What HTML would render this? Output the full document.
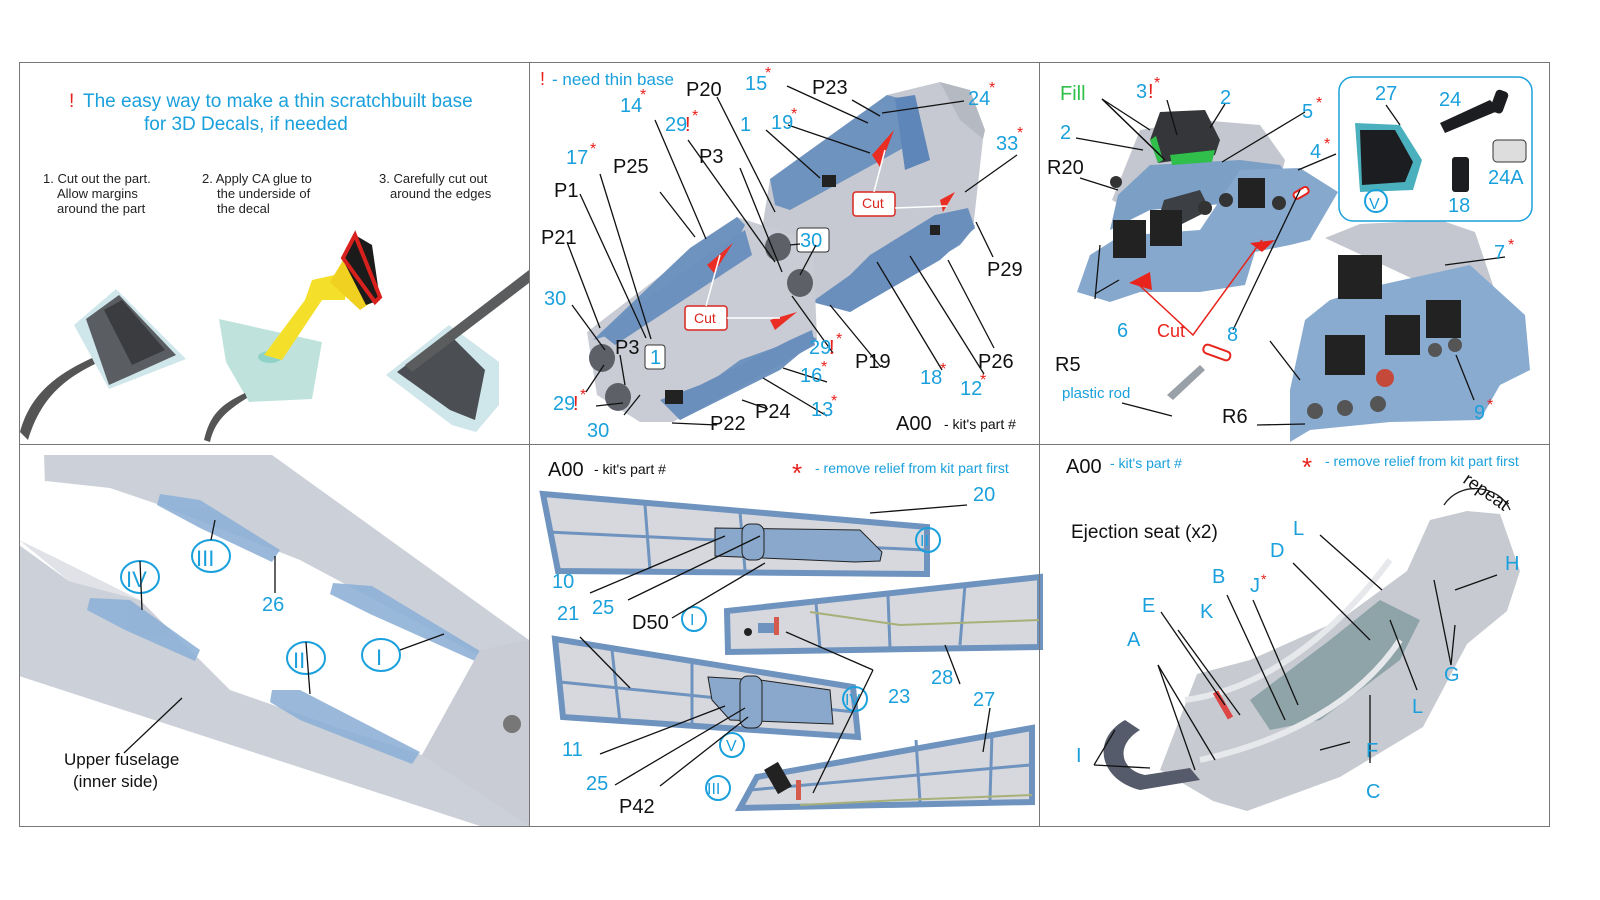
<!DOCTYPE html>
<html><head><meta charset="utf-8"><style>
html,body{margin:0;padding:0;background:#fff;}
svg{display:block;}
text{font-family:"Liberation Sans",Arial,sans-serif;}
.b{fill:#1aa0dc;font-size:20px;}
.k{fill:#111;font-size:20px;}
.r{fill:#e8201c;}
.ln{stroke:#111;stroke-width:1.3;fill:none;}
.gr{fill:#c9ccd4;}
.bl{fill:#6f93bf;}
.scr{fill:#222;}
</style></head><body>
<svg width="1600" height="900" viewBox="0 0 1600 900" xmlns="http://www.w3.org/2000/svg">
<rect width="1600" height="900" fill="#fff"/>

<!-- ===== TOP LEFT ===== -->
<text x="69" y="107" font-size="19" class="r">!</text>
<text x="83" y="107" font-size="19" fill="#1aa0dc">The easy way to make a thin scratchbuilt base</text>
<text x="144" y="130" font-size="19" fill="#1aa0dc">for 3D Decals, if needed</text>
<g font-size="13" fill="#222">
<text x="43" y="183">1. Cut out the part.</text><text x="57" y="198">Allow margins</text><text x="57" y="213">around the part</text>
<text x="202" y="183">2. Apply CA glue to</text><text x="217" y="198">the underside of</text><text x="217" y="213">the decal</text>
<text x="379" y="183">3. Carefully cut out</text><text x="390" y="198">around the edges</text>
</g>
<polygon points="74,325 116,289 186,359 109,389" fill="#cfe6ea"/>
<polygon points="86,319 119,295 176,355 109,385" fill="#5a5d62"/>
<polygon points="104,310 122,300 165,350 132,365" fill="#3a3c40"/>
<path d="M20,432 C30,395 55,375 92,358 L95,364 C62,380 40,400 28,440 Z" fill="#555"/>
<polygon points="219,319 322,342 312,399 249,402 226,362" fill="#bfe3dc"/>
<ellipse cx="270" cy="357" rx="12" ry="6" fill="#8fd3c8"/>
<polygon points="264,355 282,360 322,300 345,300 348,272 312,280 305,300" fill="#f4e02a"/>
<polygon points="330,282 348,252 375,300 360,310" fill="#f0d020"/>
<polygon points="343,260 355,235 372,245 380,300 366,305" fill="#1b1b1b"/>
<path d="M343,258 L355,235 L380,297 L375,302 Z" fill="none" stroke="#d8201c" stroke-width="4"/>
<path d="M204,440 C210,415 220,405 245,393 L247,398 C228,410 215,420 210,442 Z" fill="#555"/>
<polygon points="386,375 449,325 499,362 499,405 476,432 452,425" fill="#cfe6ea"/>
<polygon points="397,372 448,333 485,370 475,420 450,410" fill="#4b4e53"/>
<polygon points="405,365 529,270 529,283 412,372" fill="#5a5c5e"/>

<!-- ===== TOP MIDDLE ===== -->
<text x="540" y="85" font-size="18" class="r">!</text><text x="552" y="85" font-size="17" fill="#1aa0dc">- need thin base</text>
<!-- right tub -->
<polygon points="760,242 770,179 887,95 940,82 983,139 973,229 850,312 817,302" fill="#c6c9d1"/>
<polygon points="770,179 887,95 905,100 918,140 790,210 775,205" class="bl"/>
<polygon points="895,98 915,95 930,160 905,170" fill="#5f86b8"/>
<polygon points="840,300 930,240 975,225 973,229 960,245 850,312" class="bl"/>
<polygon points="812,302 850,275 870,255 935,215 968,208 975,228 940,260 850,312" fill="#6b8fbd"/>
<polygon points="940,82 970,90 985,130 983,139 960,120" fill="#b5b9c2"/>
<rect x="822" y="175" width="14" height="12" class="scr"/>
<rect x="930" y="225" width="10" height="10" class="scr"/>
<!-- left tub -->
<polygon points="587,332 737,217 813,242 817,339 673,422 640,422 597,395" fill="#c9ccd4"/>
<polygon points="593,340 690,248 737,217 745,225 735,245 610,335" class="bl"/>
<polygon points="600,333 700,260 745,230 752,255 615,345" fill="#6d91be"/>
<polygon points="672,410 740,360 810,335 817,339 780,370 680,420" class="bl"/>
<polygon points="660,400 700,385 790,340 812,330 815,345 680,420" fill="#6b8fbd"/>
<rect x="665" y="390" width="18" height="14" class="scr"/>
<!-- seats -->
<g fill="#5e6068"><ellipse cx="602" cy="358" rx="13" ry="14"/><ellipse cx="618" cy="397" rx="13" ry="14"/><ellipse cx="778" cy="247" rx="13" ry="14"/><ellipse cx="800" cy="283" rx="13" ry="14"/></g>
<g fill="#ea2e24"><polygon points="707,265 733,243 714,273"/><polygon points="770,320 797,312 775,330"/><polygon points="872,155 894,130 880,167"/><polygon points="940,200 955,192 943,212"/></g>
<g fill="#fff" stroke="#d9261f" stroke-width="1.5"><rect x="685" y="306" width="42" height="24" rx="3"/><rect x="853" y="192" width="42" height="24" rx="3"/></g>
<g font-size="14" fill="#d9261f"><text x="694" y="323">Cut</text><text x="862" y="208">Cut</text></g>
<g stroke="#fff" stroke-width="1.5"><line x1="706" y1="306" x2="720" y2="255"/><line x1="727" y1="318" x2="780" y2="318"/><line x1="874" y1="192" x2="885" y2="150"/><line x1="895" y1="208" x2="947" y2="206"/></g>
<g fill="#fff" stroke="#333" stroke-width="1"><rect x="645" y="345" width="20" height="24" rx="3"/><rect x="797" y="228" width="32" height="24" rx="3"/></g>
<text x="650" y="364" class="b">1</text><text x="800" y="247" class="b">30</text>
<g class="ln">
<line x1="600" y1="174" x2="651" y2="339"/><line x1="660" y1="192" x2="695" y2="237"/><line x1="655" y1="120" x2="706" y2="239"/><line x1="580" y1="194" x2="646" y2="338"/>
<line x1="567" y1="242" x2="600" y2="328"/><line x1="572" y1="305" x2="605" y2="350"/><line x1="586" y1="392" x2="604" y2="365"/><line x1="596" y1="406" x2="623" y2="403"/><line x1="624" y1="415" x2="640" y2="395"/><line x1="620" y1="355" x2="625" y2="385"/>
<line x1="688" y1="140" x2="775" y2="262"/><line x1="717" y1="97" x2="775" y2="212"/><line x1="740" y1="168" x2="782" y2="272"/><line x1="766" y1="130" x2="820" y2="178"/>
<line x1="788" y1="125" x2="870" y2="153"/><line x1="787" y1="86" x2="868" y2="123"/><line x1="852" y1="100" x2="880" y2="116"/><line x1="882" y1="113" x2="964" y2="101"/><line x1="1017" y1="155" x2="965" y2="192"/>
<line x1="993" y1="257" x2="976" y2="222"/><line x1="994" y1="348" x2="948" y2="260"/><line x1="984" y1="374" x2="910" y2="256"/><line x1="942" y1="370" x2="877" y2="262"/><line x1="881" y1="367" x2="830" y2="305"/>
<line x1="833" y1="353" x2="792" y2="296"/><line x1="827" y1="382" x2="783" y2="368"/><line x1="827" y1="416" x2="763" y2="378"/><line x1="768" y1="409" x2="742" y2="400"/><line x1="717" y1="425" x2="672" y2="423"/>
<line x1="800" y1="244" x2="790" y2="245"/><line x1="816" y1="245" x2="800" y2="275"/>
</g>
<g class="k"><text x="686" y="96">P20</text><text x="812" y="94">P23</text><text x="613" y="173">P25</text><text x="699" y="163">P3</text><text x="554" y="197">P1</text><text x="541" y="244">P21</text><text x="615" y="354">P3</text><text x="710" y="430">P22</text><text x="755" y="418">P24</text><text x="855" y="368">P19</text><text x="978" y="368">P26</text><text x="987" y="276">P29</text></g>
<g class="b"><text x="745" y="90">15</text><text x="620" y="112">14</text><text x="665" y="131">29</text><text x="740" y="131">1</text><text x="771" y="129">19</text><text x="566" y="164">17</text><text x="968" y="105">24</text><text x="996" y="150">33</text><text x="544" y="305">30</text><text x="553" y="410">29</text><text x="587" y="437">30</text><text x="809" y="354">29</text><text x="800" y="382">16</text><text x="920" y="384">18</text><text x="960" y="395">12</text><text x="811" y="416">13</text></g>
<g class="r" font-size="16"><text x="765" y="78">*</text><text x="640" y="100">*</text><text x="685" y="131" font-size="20">!</text><text x="692" y="121">*</text><text x="791" y="119">*</text><text x="590" y="154">*</text><text x="989" y="93">*</text><text x="1017" y="138">*</text><text x="573" y="410" font-size="20">!</text><text x="580" y="400">*</text><text x="829" y="354" font-size="20">!</text><text x="836" y="344">*</text><text x="821" y="372">*</text><text x="940" y="374">*</text><text x="980" y="385">*</text><text x="831" y="406">*</text></g>
<text x="896" y="430" class="k">A00</text><text x="944" y="429" font-size="14" fill="#111">- kit's part #</text>

<!-- ===== TOP RIGHT ===== -->
<polygon points="1112,200 1140,130 1200,120 1260,125 1285,160 1280,180 1130,210" fill="#c4c7cf"/>
<polygon points="1110,230 1118,195 1150,165 1240,160 1280,165 1290,178 1270,200 1150,210" fill="#7c9fc6"/>
<polygon points="1077,292 1090,255 1120,236 1200,230 1240,170 1300,168 1338,192 1310,240 1290,245 1255,252 1245,285 1200,292 1140,292 1110,302" fill="#87a8cd"/>
<polygon points="1155,230 1164,200 1200,190 1210,210 1180,225" fill="#3c3f44"/>
<g class="scr"><rect x="1113" y="220" width="33" height="38"/><rect x="1150" y="210" width="32" height="36"/><rect x="1238" y="178" width="27" height="30"/></g>
<polygon points="1150,140 1160,112 1205,110 1220,140 1215,155 1158,163" fill="#34363a"/>
<polygon points="1150,140 1158,163 1163,160 1156,136" fill="#2fbf4a"/><polygon points="1170,155 1215,150 1212,162 1172,165" fill="#2fbf4a"/>
<g fill="#333"><circle cx="1116" cy="182" r="6"/><circle cx="1205" cy="208" r="7"/><circle cx="1226" cy="200" r="7"/><circle cx="1279" cy="203" r="7"/></g>
<polygon points="1129,283 1150,272 1152,290" fill="#e8241c"/><polygon points="1250,243 1275,240 1262,252" fill="#e8241c"/>
<polyline points="1138,284 1193,335 1262,240" stroke="#e8241c" stroke-width="1.5" fill="none"/>
<polygon points="1325,238 1360,224 1440,220 1475,232 1498,300 1480,310" fill="#c4c7cf"/>
<polygon points="1290,390 1305,320 1330,300 1380,285 1470,265 1525,315 1530,370 1500,385 1480,420 1390,422 1310,430 1290,442" fill="#8aabd0"/>
<g class="scr"><rect x="1338" y="255" width="44" height="44"/><rect x="1325" y="335" width="40" height="40"/><rect x="1385" y="315" width="35" height="40"/><rect x="1426" y="300" width="35" height="38"/></g>
<g fill="#555"><circle cx="1315" cy="411" r="8"/><circle cx="1345" cy="408" r="8"/><circle cx="1378" cy="404" r="8"/><circle cx="1435" cy="350" r="7"/><circle cx="1455" cy="345" r="7"/><circle cx="1385" cy="378" r="9" fill="#c4493a"/></g>
<g fill="#fff" stroke="#e8241c" stroke-width="2"><rect x="1203" y="348" width="28" height="9" rx="4" transform="rotate(20 1217 352)"/><rect x="1293" y="190" width="16" height="7" rx="3" transform="rotate(-30 1300 193)"/></g>
<polygon points="1167,395 1200,365 1205,370 1173,400" fill="#9aa0a8"/>
<rect x="1339" y="77" width="193" height="144" rx="14" fill="#fff" stroke="#1aa0dc" stroke-width="1.5"/>
<polygon points="1355,123 1400,125 1422,160 1413,190 1360,192" fill="#4bb0bd"/>
<polygon points="1360,130 1395,130 1413,162 1405,182 1362,185" fill="#1c1d20"/>
<polygon points="1440,123 1490,100 1500,110 1445,133" fill="#1c1d20"/><rect x="1493" y="90" width="13" height="23" rx="4" fill="#1c1d20" transform="rotate(20 1499 101)"/>
<rect x="1452" y="157" width="17" height="35" rx="3" fill="#1c1d20"/><rect x="1493" y="140" width="33" height="22" rx="4" fill="#ddd" stroke="#333"/>
<circle cx="1376" cy="201" r="11" fill="none" stroke="#1aa0dc" stroke-width="2"/><text x="1369" y="209" font-size="16" fill="#1aa0dc">V</text>
<g class="ln">
<line x1="1102" y1="99" x2="1150" y2="130"/><line x1="1102" y1="99" x2="1160" y2="155"/><line x1="1102" y1="99" x2="1165" y2="160"/><line x1="1076" y1="138" x2="1143" y2="150"/><line x1="1225" y1="104" x2="1210" y2="128"/><line x1="1167" y1="100" x2="1177" y2="135"/>
<line x1="1305" y1="112" x2="1222" y2="162"/><line x1="1336" y1="154" x2="1298" y2="170"/><line x1="1080" y1="178" x2="1118" y2="190"/><line x1="1095" y1="294" x2="1119" y2="280"/>
<line x1="1095" y1="299" x2="1100" y2="245"/><line x1="1233" y1="330" x2="1300" y2="190"/><line x1="1505" y1="257" x2="1445" y2="265"/><line x1="1474" y1="400" x2="1456" y2="355"/>
<line x1="1257" y1="425" x2="1305" y2="424"/><line x1="1270" y1="341" x2="1300" y2="380"/><line x1="1122" y1="403" x2="1172" y2="416"/><line x1="1386" y1="105" x2="1400" y2="125"/>
</g>
<text x="1060" y="100" font-size="20" fill="#2fbf4a">Fill</text>
<g class="b"><text x="1136" y="98">3</text><text x="1220" y="104">2</text><text x="1060" y="139">2</text><text x="1302" y="118">5</text><text x="1310" y="158">4</text><text x="1117" y="337">6</text><text x="1227" y="341">8</text><text x="1494" y="259">7</text><text x="1474" y="419">9</text><text x="1375" y="100">27</text><text x="1439" y="106">24</text><text x="1488" y="184">24A</text><text x="1448" y="212">18</text><text x="1062" y="398" font-size="15">plastic rod</text></g>
<g class="r" font-size="16"><text x="1148" y="98" font-size="20">!</text><text x="1154" y="88">*</text><text x="1316" y="108">*</text><text x="1324" y="149">*</text><text x="1508" y="250">*</text><text x="1487" y="410">*</text></g>
<text x="1157" y="337" font-size="18" fill="#e8241c">Cut</text>
<g class="k"><text x="1047" y="174">R20</text><text x="1055" y="371">R5</text><text x="1222" y="423">R6</text></g>

<!-- ===== BOTTOM LEFT ===== -->
<polygon points="44,455 272,455 529,640 529,826 480,826 19,676 19,540 45,520" fill="#ccd0d8"/>
<polygon points="46,481 110,488 160,505 300,560 478,655 422,755 330,725 230,690 140,600 69,581 19,545 19,500" fill="#fff"/>
<polygon points="19,540 69,581 140,600 120,590 60,560" fill="#e0e2e8"/>
<polygon points="19,455 44,455 45,485 19,500" fill="#fff"/>
<g fill="#8eb1d7" opacity="0.9">
<polygon points="160,494 200,500 280,550 272,562 200,528 157,505"/>
<polygon points="333,583 372,586 480,651 475,661 370,614 330,594"/>
<polygon points="90,598 130,600 200,650 195,661 125,630 87,610"/>
<polygon points="272,690 300,690 420,752 412,764 300,720 270,702"/>
</g>
<polygon points="480,650 529,640 529,826 422,755" fill="#c9ccd4"/>
<ellipse cx="512" cy="724" rx="9" ry="9" fill="#777"/>
<g fill="none" stroke="#1aa0dc" stroke-width="2"><ellipse cx="211" cy="556" rx="19" ry="16"/><ellipse cx="140" cy="577" rx="19" ry="16"/><ellipse cx="306" cy="658" rx="19" ry="16"/><ellipse cx="381" cy="655" rx="19" ry="16"/></g>
<g font-family="Liberation Serif" fill="#1aa0dc" font-size="22"><text x="196" y="566">III</text><text x="126" y="587">IV</text><text x="293" y="668">II</text><text x="376" y="665">I</text></g>
<g class="ln"><line x1="211" y1="540" x2="215" y2="520"/><line x1="140" y1="561" x2="142" y2="610"/><line x1="306" y1="642" x2="310" y2="694"/><line x1="400" y1="650" x2="444" y2="634"/><line x1="275" y1="593" x2="275" y2="556"/><line x1="124" y1="753" x2="182" y2="698"/></g>
<text x="262" y="611" class="b">26</text>
<g font-size="17" fill="#111"><text x="64" y="765">Upper fuselage</text><text x="73" y="787">(inner side)</text></g>

<!-- ===== BOTTOM MIDDLE ===== -->
<text x="548" y="476" font-size="20" fill="#111">A00</text><text x="594" y="474" font-size="14" fill="#111">- kit's part #</text>
<text x="792" y="482" font-size="26" class="r">*</text><text x="815" y="473" font-size="14" fill="#1aa0dc">- remove relief from kit part first</text>
<polygon points="543,494 927,527 927,574 558,571" fill="#d7d8dd" stroke="#6f93bf" stroke-width="6"/>
<polygon points="727,611 1040,577 1040,647 728,652" fill="#d7d8dd" stroke="#6f93bf" stroke-width="6"/>
<polygon points="555,639 853,687 858,737 563,717" fill="#d7d8dd" stroke="#6f93bf" stroke-width="6"/>
<polygon points="757,777 1032,728 1032,802 740,808" fill="#d7d8dd" stroke="#6f93bf" stroke-width="6"/>
<g stroke="#6f93bf" stroke-width="3"><line x1="645" y1="505" x2="650" y2="570"/><line x1="740" y1="512" x2="745" y2="570"/><line x1="548" y1="532" x2="925" y2="550"/><line x1="816" y1="603" x2="820" y2="648"/><line x1="888" y1="596" x2="890" y2="648"/><line x1="965" y1="585" x2="960" y2="645"/><line x1="612" y1="650" x2="620" y2="722"/><line x1="692" y1="662" x2="692" y2="728"/><line x1="560" y1="682" x2="855" y2="712"/><line x1="916" y1="740" x2="920" y2="802"/><line x1="992" y1="733" x2="990" y2="800"/><line x1="750" y1="790" x2="1030" y2="765"/></g>
<polygon points="715,528 860,530 882,552 880,561 855,562 715,556" fill="#8aa8cb" stroke="#222" stroke-width="1"/>
<rect x="742" y="524" width="22" height="36" rx="8" fill="#8aa8cb" stroke="#222"/>
<polygon points="708,677 760,680 830,690 833,724 730,720 712,700" fill="#8aa8cb" stroke="#222"/>
<rect x="740" y="676" width="22" height="52" rx="8" fill="#8aa8cb" stroke="#222"/>
<rect x="758" y="623" width="20" height="10" fill="#6f93bf"/><rect x="774" y="617" width="5" height="18" fill="#d45a4e"/>
<circle cx="748" cy="632" r="4" fill="#222"/>
<rect x="770" y="764" width="16" height="28" fill="#222" transform="rotate(-30 778 778)"/><rect x="796" y="780" width="5" height="20" fill="#d45a4e"/>
<polyline points="810,612 900,625 1040,620" stroke="#a8b07a" stroke-width="2" fill="none"/>
<polyline points="800,805 900,800 1032,795" stroke="#a8b07a" stroke-width="2" fill="none"/>
<g fill="none" stroke="#1aa0dc" stroke-width="2"><ellipse cx="928" cy="540" rx="12" ry="12"/><ellipse cx="694" cy="619" rx="12" ry="12"/><ellipse cx="855" cy="699" rx="12" ry="12"/><ellipse cx="732" cy="745" rx="12" ry="12"/><ellipse cx="718" cy="788" rx="12" ry="12"/></g>
<g font-family="Liberation Serif" fill="#1aa0dc" font-size="16"><text x="920" y="546">II</text><text x="690" y="625">I</text><text x="845" y="705">IV</text><text x="726" y="751">V</text><text x="707" y="794">III</text></g>
<g class="ln"><line x1="590" y1="593" x2="725" y2="536"/><line x1="628" y1="600" x2="760" y2="536"/><line x1="672" y1="618" x2="765" y2="563"/><line x1="873" y1="670" x2="786" y2="632"/><line x1="873" y1="670" x2="813" y2="793"/><line x1="870" y1="513" x2="967" y2="505"/><line x1="960" y1="684" x2="945" y2="645"/><line x1="990" y1="708" x2="983" y2="752"/><line x1="580" y1="637" x2="630" y2="688"/><line x1="600" y1="754" x2="725" y2="706"/><line x1="615" y1="785" x2="745" y2="708"/><line x1="660" y1="786" x2="748" y2="717"/></g>
<g class="b"><text x="973" y="501">20</text><text x="552" y="588">10</text><text x="592" y="614">25</text><text x="557" y="620">21</text><text x="931" y="684">28</text><text x="888" y="703">23</text><text x="973" y="706">27</text><text x="562" y="756">11</text><text x="586" y="790">25</text></g>
<g class="k"><text x="632" y="629">D50</text><text x="619" y="813">P42</text></g>

<!-- ===== BOTTOM RIGHT ===== -->
<text x="1066" y="473" font-size="20" fill="#111">A00</text><text x="1110" y="468" font-size="14" fill="#1aa0dc">- kit's part #</text>
<text x="1302" y="476" font-size="26" class="r">*</text><text x="1325" y="466" font-size="14" fill="#1aa0dc">- remove relief from kit part first</text>
<text x="1071" y="538" font-size="19" fill="#111">Ejection seat (x2)</text>
<path d="M1444,505 C1460,480 1500,485 1510,510" stroke="#222" stroke-width="1.3" fill="none"/>
<text x="1462" y="482" font-size="18" fill="#111" transform="rotate(35 1462 482)">repeat</text>
<polygon points="1197,674 1250,660 1340,620 1407,571 1430,520 1467,511 1500,514 1520,571 1507,611 1467,644 1423,727 1340,777 1247,811 1213,801 1160,770" fill="#c7cad0"/>
<polygon points="1250,700 1330,640 1380,600 1420,620 1400,660 1320,720 1270,730" fill="#8fa4a8"/>
<path d="M1125,720 C1090,740 1100,780 1140,790 L1200,780 L1190,768 L1145,775 C1120,770 1115,745 1140,730 Z" fill="#555b6a"/>
<path d="M1185,700 C1260,690 1330,640 1390,560" stroke="#e6e8ec" stroke-width="6" fill="none"/>
<path d="M1200,760 C1290,740 1360,700 1400,640" stroke="#e6e8ec" stroke-width="6" fill="none"/>
<rect x="1220" y="690" width="6" height="30" fill="#d44" transform="rotate(-30 1223 705)"/>
<g class="ln"><line x1="1320" y1="535" x2="1382" y2="590"/><line x1="1293" y1="563" x2="1370" y2="640"/><line x1="1253" y1="600" x2="1298" y2="705"/><line x1="1227" y1="595" x2="1285" y2="720"/><line x1="1178" y1="630" x2="1240" y2="715"/><line x1="1161" y1="612" x2="1225" y2="705"/><line x1="1158" y1="665" x2="1215" y2="760"/><line x1="1158" y1="665" x2="1195" y2="770"/><line x1="1094" y1="765" x2="1115" y2="730"/><line x1="1094" y1="765" x2="1150" y2="768"/><line x1="1350" y1="742" x2="1320" y2="750"/><line x1="1370" y1="763" x2="1370" y2="695"/><line x1="1417" y1="690" x2="1390" y2="620"/><line x1="1451" y1="665" x2="1434" y2="580"/><line x1="1451" y1="665" x2="1455" y2="625"/><line x1="1497" y1="575" x2="1455" y2="590"/></g>
<g class="b"><text x="1293" y="535">L</text><text x="1270" y="557">D</text><text x="1212" y="583">B</text><text x="1250" y="592">J</text><text x="1142" y="612">E</text><text x="1200" y="618">K</text><text x="1127" y="646">A</text><text x="1076" y="762">I</text><text x="1366" y="757">F</text><text x="1366" y="798">C</text><text x="1412" y="713">L</text><text x="1444" y="681">G</text><text x="1505" y="570">H</text></g>
<text x="1261" y="584" font-size="14" class="r">*</text>

<!-- frame -->
<g stroke="#777" stroke-width="1" fill="none"><rect x="19.5" y="62.5" width="1530" height="764"/><line x1="529.5" y1="62" x2="529.5" y2="827"/><line x1="1039.5" y1="62" x2="1039.5" y2="827"/><line x1="19" y1="444.5" x2="1550" y2="444.5"/></g>
</svg>
</body></html>
